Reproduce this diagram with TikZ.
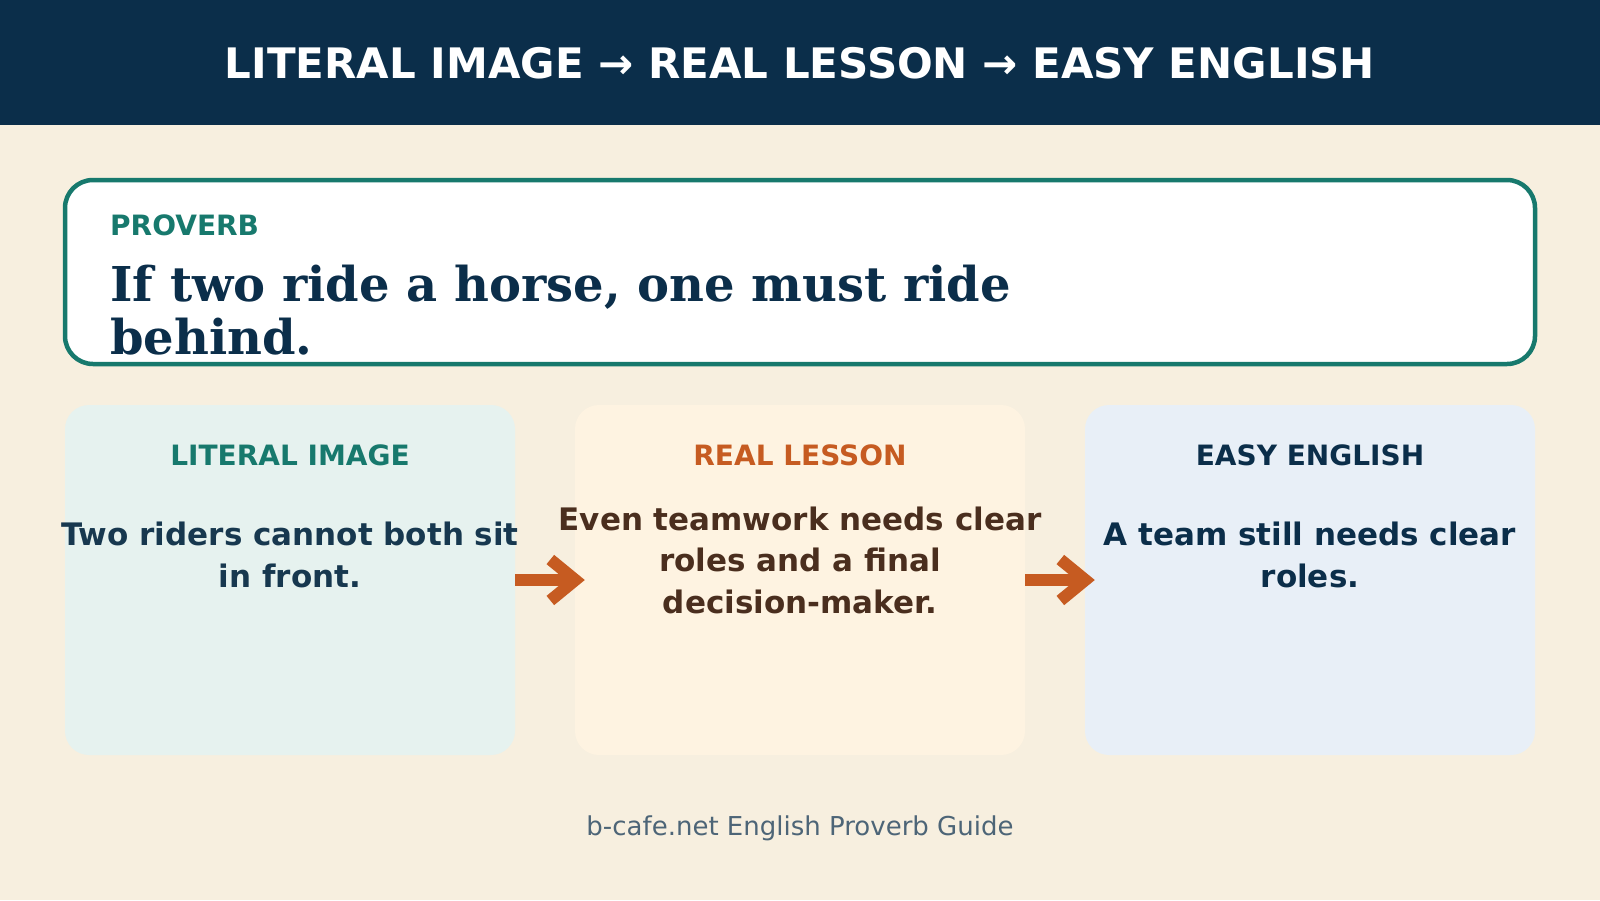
\documentclass[tikz,border=0pt]{standalone}
\usepackage{fontspec}
\setmainfont{DejaVu Sans}
\newfontfamily\provfont{DejaVu Serif}
\usetikzlibrary{arrows.meta}
\definecolor{navy}{HTML}{0B2E4A}
\definecolor{cream}{HTML}{F7EFDF}
\definecolor{teal}{HTML}{17796D}
\definecolor{rust}{HTML}{C65B21}
\definecolor{litfill}{HTML}{E6F2EF}
\definecolor{lessfill}{HTML}{FEF3E1}
\definecolor{easyfill}{HTML}{E8EFF7}
\definecolor{slate}{HTML}{17384F}
\definecolor{brown}{HTML}{4A2E1E}
\definecolor{footgray}{HTML}{4D6577}
\begin{document}
\begin{tikzpicture}[x=1pt, y=-1pt,
  card/.style={rectangle, rounded corners=24pt, minimum width=450pt, minimum height=350pt, inner sep=0pt},
  cardtitle/.style={anchor=base, inner sep=0pt, font=\fontsize{28}{34}\selectfont\bfseries},
  cardbody/.style={anchor=base, inner sep=0pt, align=center, font=\fontsize{31}{41.5}\selectfont\bfseries},
  flow/.style={draw=rust, line width=12pt, -{Straight Barb[sharp, length=25pt, width=41pt]}, shorten >=-10pt}]
\useasboundingbox (0,0) rectangle (1600,900);
\fill[cream] (0,0) rectangle (1600,900);
\fill[navy] (0,0) rectangle (1600,125);
\node[anchor=base, inner sep=0pt, text=white, font=\fontsize{42}{50}\selectfont\bfseries] (title) at (800,78) {LITERAL IMAGE → REAL LESSON → EASY ENGLISH};

\node[rectangle, rounded corners=28pt, draw=teal, line width=4.5pt, fill=white, minimum width=1470pt, minimum height=184pt] (prov) at (800,272) {};
\node[anchor=base west, inner sep=0pt, text=teal, font=\fontsize{28}{33}\selectfont\bfseries] (provlabel) at (110,235) {PROVERB};
\node[anchor=base west, inner sep=0pt, align=left, text=navy, font=\fontsize{48}{53}\provfont\bfseries] (provtext) at (110,354) {If two ride a horse, one must ride\\behind.};

\node[card, fill=litfill] (lit) at (290,580) {};
\node[card, fill=lessfill] (less) at (800,580) {};
\node[card, fill=easyfill] (easy) at (1310,580) {};
\draw[flow] (lit.east) -- (less.west);
\draw[flow] (less.east) -- (easy.west);

\node[cardtitle, text=teal] (littitle) at (290,465) {LITERAL IMAGE};
\node[cardtitle, text=rust] (lesstitle) at (800,465) {REAL LESSON};
\node[cardtitle, text=navy] (easytitle) at (1310,465) {EASY ENGLISH};
\node[cardbody, text=slate] (litbody) at (290,587) {Two riders cannot both sit\\in front.};
\node[cardbody, text=brown] (lessbody) at (800,613) {Even teamwork needs clear\\roles and a final\\decision-maker.};
\node[cardbody, text=navy] (easybody) at (1310,587) {A team still needs clear\\roles.};

\node[anchor=base, inner sep=0pt, text=footgray, font=\fontsize{26}{31}\selectfont] (footer) at (800,835) {b-cafe.net English Proverb Guide};
\end{tikzpicture}
\end{document}
